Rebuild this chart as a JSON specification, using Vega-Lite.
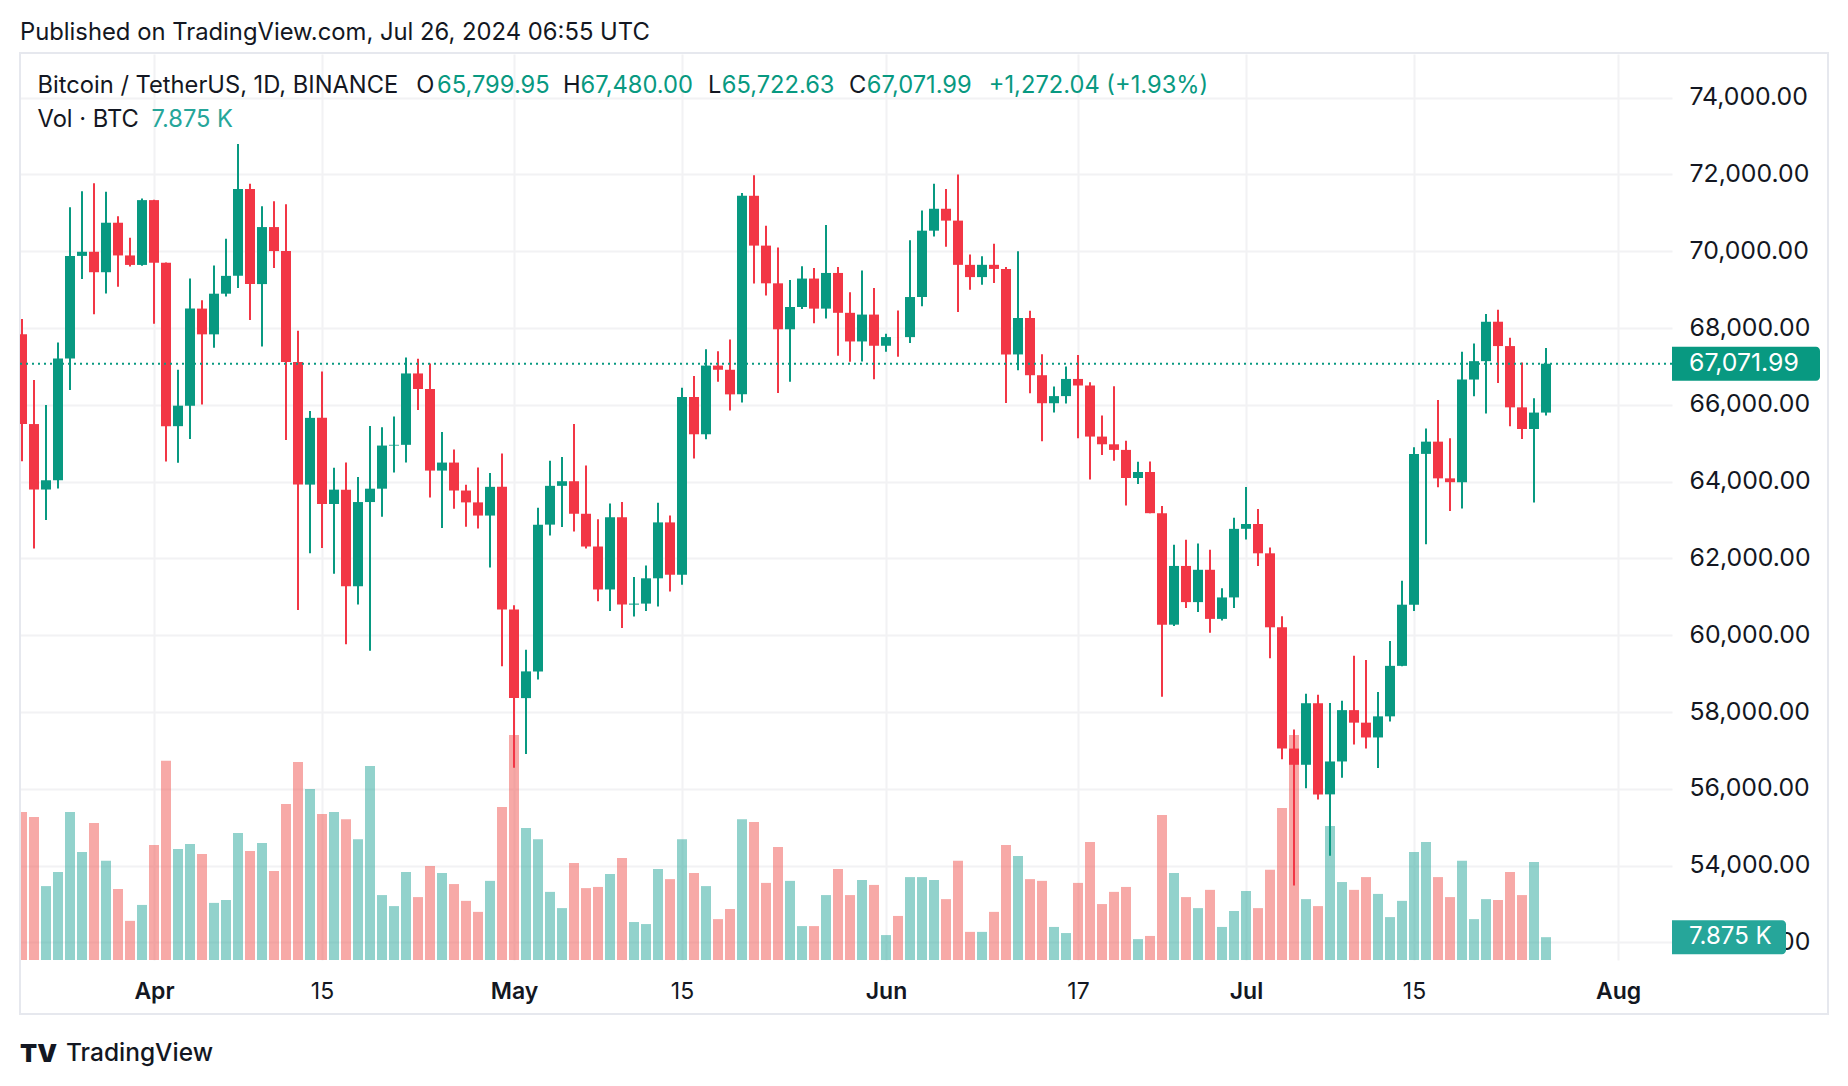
{
  "$schema": "https://vega.github.io/schema/vega-lite/v6.json",
  "width": 1652,
  "height": 906,
  "autosize": {"type": "none"},
  "padding": {"left": 20, "top": 54, "right": 176, "bottom": 126},
  "background": "white",
  "config": {"font": "Inter", "view": {"stroke": null}},
  "title": {"text": "Published on TradingView.com, Jul 26, 2024 06:55 UTC", "anchor": "start", "frame": "group", "offset": 7, "fontSize": 23.8, "fontWeight": "normal", "color": "#131722", "font": "Inter"},
  "data": {"values": [
    {"d":"2024-03-21","o":67840,"h":68240,"l":64530,"c":65501,"v":51.1},
    {"d":"2024-03-22","o":65501,"h":66650,"l":62260,"c":63796,"v":49.3},
    {"d":"2024-03-23","o":63796,"h":65999,"l":63000,"c":64037,"v":25.5},
    {"d":"2024-03-24","o":64037,"h":67622,"l":63825,"c":67211,"v":30.4},
    {"d":"2024-03-25","o":67211,"h":71150,"l":66385,"c":69880,"v":51.1},
    {"d":"2024-03-26","o":69880,"h":71561,"l":69280,"c":69988,"v":37.3},
    {"d":"2024-03-27","o":69988,"h":71769,"l":68359,"c":69455,"v":47.3},
    {"d":"2024-03-28","o":69455,"h":71552,"l":68904,"c":70744,"v":34.2},
    {"d":"2024-03-29","o":70744,"h":70914,"l":69076,"c":69892,"v":24.5},
    {"d":"2024-03-30","o":69892,"h":70355,"l":69601,"c":69645,"v":13.5},
    {"d":"2024-03-31","o":69645,"h":71377,"l":69624,"c":71333,"v":19.0},
    {"d":"2024-04-01","o":71333,"h":71342,"l":68110,"c":69702,"v":39.7},
    {"d":"2024-04-02","o":69702,"h":69708,"l":64525,"c":65446,"v":68.7},
    {"d":"2024-04-03","o":65446,"h":66914,"l":64493,"c":65980,"v":38.3},
    {"d":"2024-04-04","o":65980,"h":69291,"l":65113,"c":68508,"v":40.0},
    {"d":"2024-04-05","o":68508,"h":68725,"l":66011,"c":67837,"v":36.6},
    {"d":"2024-04-06","o":67837,"h":69630,"l":67491,"c":68896,"v":19.7},
    {"d":"2024-04-07","o":68896,"h":70326,"l":68824,"c":69360,"v":20.7},
    {"d":"2024-04-08","o":69360,"h":72797,"l":69043,"c":71620,"v":43.8},
    {"d":"2024-04-09","o":71620,"h":71758,"l":68210,"c":69146,"v":37.6},
    {"d":"2024-04-10","o":69146,"h":71172,"l":67518,"c":70631,"v":40.4},
    {"d":"2024-04-11","o":70631,"h":71305,"l":69567,"c":70006,"v":30.7},
    {"d":"2024-04-12","o":70006,"h":71227,"l":65086,"c":67117,"v":53.8},
    {"d":"2024-04-13","o":67117,"h":67931,"l":60660,"c":63924,"v":68.3},
    {"d":"2024-04-14","o":63924,"h":65840,"l":62134,"c":65662,"v":59.0},
    {"d":"2024-04-15","o":65662,"h":66867,"l":62274,"c":63419,"v":50.4},
    {"d":"2024-04-16","o":63419,"h":64365,"l":61600,"c":63793,"v":51.1},
    {"d":"2024-04-17","o":63793,"h":64499,"l":59768,"c":61277,"v":48.6},
    {"d":"2024-04-18","o":61277,"h":64125,"l":60800,"c":63470,"v":41.7},
    {"d":"2024-04-19","o":63470,"h":65450,"l":59600,"c":63818,"v":66.9},
    {"d":"2024-04-20","o":63818,"h":65419,"l":63090,"c":64941,"v":22.4},
    {"d":"2024-04-21","o":64941,"h":65695,"l":64237,"c":64960,"v":18.6},
    {"d":"2024-04-22","o":64960,"h":67233,"l":64500,"c":66819,"v":30.4},
    {"d":"2024-04-23","o":66819,"h":67199,"l":65864,"c":66414,"v":21.7},
    {"d":"2024-04-24","o":66414,"h":67075,"l":63589,"c":64289,"v":32.4},
    {"d":"2024-04-25","o":64289,"h":65297,"l":62794,"c":64498,"v":30.0},
    {"d":"2024-04-26","o":64498,"h":64837,"l":63297,"c":63770,"v":26.2},
    {"d":"2024-04-27","o":63770,"h":63923,"l":62824,"c":63461,"v":20.4},
    {"d":"2024-04-28","o":63461,"h":64370,"l":62781,"c":63118,"v":16.6},
    {"d":"2024-04-29","o":63118,"h":64228,"l":61765,"c":63866,"v":27.3},
    {"d":"2024-04-30","o":63866,"h":64734,"l":59191,"c":60672,"v":52.8},
    {"d":"2024-05-01","o":60672,"h":60780,"l":56552,"c":58364,"v":77.6},
    {"d":"2024-05-02","o":58364,"h":59625,"l":56911,"c":59060,"v":45.5},
    {"d":"2024-05-03","o":59060,"h":63320,"l":58848,"c":62882,"v":41.7},
    {"d":"2024-05-04","o":62882,"h":64544,"l":62600,"c":63892,"v":23.5},
    {"d":"2024-05-05","o":63892,"h":64646,"l":62822,"c":64012,"v":17.9},
    {"d":"2024-05-06","o":64012,"h":65500,"l":62700,"c":63165,"v":33.5},
    {"d":"2024-05-07","o":63165,"h":64422,"l":62261,"c":62312,"v":24.8},
    {"d":"2024-05-08","o":62312,"h":63021,"l":60888,"c":61193,"v":25.2},
    {"d":"2024-05-09","o":61193,"h":63429,"l":60630,"c":63074,"v":29.7},
    {"d":"2024-05-10","o":63074,"h":63469,"l":60187,"c":60799,"v":35.2},
    {"d":"2024-05-11","o":60799,"h":61515,"l":60487,"c":60825,"v":13.1},
    {"d":"2024-05-12","o":60825,"h":61818,"l":60632,"c":61484,"v":12.4},
    {"d":"2024-05-13","o":61484,"h":63450,"l":60750,"c":62940,"v":31.4},
    {"d":"2024-05-14","o":62940,"h":63118,"l":61142,"c":61577,"v":27.9},
    {"d":"2024-05-15","o":61577,"h":66444,"l":61319,"c":66206,"v":41.7},
    {"d":"2024-05-16","o":66206,"h":66752,"l":64602,"c":65235,"v":30.0},
    {"d":"2024-05-17","o":65235,"h":67451,"l":65106,"c":67024,"v":25.5},
    {"d":"2024-05-18","o":67024,"h":67400,"l":66600,"c":66915,"v":14.1},
    {"d":"2024-05-19","o":66915,"h":67700,"l":65857,"c":66274,"v":17.6},
    {"d":"2024-05-20","o":66274,"h":71515,"l":66060,"c":71446,"v":48.6},
    {"d":"2024-05-21","o":71446,"h":71979,"l":69162,"c":70148,"v":47.6},
    {"d":"2024-05-22","o":70148,"h":70666,"l":68850,"c":69166,"v":26.6},
    {"d":"2024-05-23","o":69166,"h":70096,"l":66312,"c":67969,"v":39.0},
    {"d":"2024-05-24","o":67969,"h":69250,"l":66600,"c":68549,"v":27.3},
    {"d":"2024-05-25","o":68549,"h":69610,"l":68500,"c":69290,"v":11.7},
    {"d":"2024-05-26","o":69290,"h":69562,"l":68128,"c":68507,"v":11.7},
    {"d":"2024-05-27","o":68507,"h":70687,"l":68250,"c":69436,"v":22.4},
    {"d":"2024-05-28","o":69436,"h":69591,"l":67278,"c":68398,"v":31.4},
    {"d":"2024-05-29","o":68398,"h":68935,"l":67124,"c":67652,"v":22.4},
    {"d":"2024-05-30","o":67652,"h":69500,"l":67128,"c":68352,"v":27.6},
    {"d":"2024-05-31","o":68352,"h":69044,"l":66670,"c":67540,"v":25.9},
    {"d":"2024-06-01","o":67540,"h":67856,"l":67387,"c":67766,"v":8.6},
    {"d":"2024-06-02","o":67766,"h":68460,"l":67257,"c":67765,"v":15.2},
    {"d":"2024-06-03","o":67765,"h":70288,"l":67612,"c":68809,"v":28.6},
    {"d":"2024-06-04","o":68809,"h":71063,"l":68567,"c":70537,"v":28.6},
    {"d":"2024-06-05","o":70537,"h":71758,"l":70383,"c":71108,"v":27.6},
    {"d":"2024-06-06","o":71108,"h":71625,"l":70119,"c":70799,"v":21.0},
    {"d":"2024-06-07","o":70799,"h":71997,"l":68420,"c":69647,"v":34.2},
    {"d":"2024-06-08","o":69647,"h":69914,"l":69000,"c":69328,"v":9.7},
    {"d":"2024-06-09","o":69328,"h":69868,"l":69129,"c":69648,"v":9.7},
    {"d":"2024-06-10","o":69648,"h":70195,"l":69172,"c":69541,"v":16.6},
    {"d":"2024-06-11","o":69541,"h":69590,"l":66051,"c":67314,"v":39.7},
    {"d":"2024-06-12","o":67314,"h":69999,"l":66900,"c":68263,"v":35.9},
    {"d":"2024-06-13","o":68263,"h":68450,"l":66304,"c":66773,"v":27.9},
    {"d":"2024-06-14","o":66773,"h":67316,"l":65056,"c":66043,"v":27.3},
    {"d":"2024-06-15","o":66043,"h":66478,"l":65800,"c":66229,"v":11.4},
    {"d":"2024-06-16","o":66229,"h":66998,"l":66034,"c":66676,"v":9.3},
    {"d":"2024-06-17","o":66676,"h":67299,"l":65130,"c":66505,"v":26.6},
    {"d":"2024-06-18","o":66505,"h":66588,"l":64060,"c":65175,"v":40.7},
    {"d":"2024-06-19","o":65175,"h":65727,"l":64693,"c":64974,"v":19.3},
    {"d":"2024-06-20","o":64974,"h":66483,"l":64547,"c":64828,"v":23.5},
    {"d":"2024-06-21","o":64828,"h":65066,"l":63379,"c":64096,"v":25.2},
    {"d":"2024-06-22","o":64096,"h":64520,"l":63943,"c":64252,"v":7.2},
    {"d":"2024-06-23","o":64252,"h":64527,"l":63178,"c":63180,"v":8.3},
    {"d":"2024-06-24","o":63180,"h":63370,"l":58402,"c":60277,"v":50.0},
    {"d":"2024-06-25","o":60277,"h":62359,"l":60239,"c":61806,"v":30.0},
    {"d":"2024-06-26","o":61806,"h":62488,"l":60712,"c":60864,"v":21.7},
    {"d":"2024-06-27","o":60864,"h":62389,"l":60606,"c":61706,"v":17.9},
    {"d":"2024-06-28","o":61706,"h":62225,"l":60063,"c":60427,"v":24.2},
    {"d":"2024-06-29","o":60427,"h":61224,"l":60383,"c":60986,"v":11.4},
    {"d":"2024-06-30","o":60986,"h":63058,"l":60712,"c":62772,"v":16.9},
    {"d":"2024-07-01","o":62773,"h":63861,"l":62497,"c":62899,"v":23.8},
    {"d":"2024-07-02","o":62899,"h":63288,"l":61806,"c":62135,"v":17.9},
    {"d":"2024-07-03","o":62135,"h":62285,"l":59400,"c":60208,"v":31.1},
    {"d":"2024-07-04","o":60208,"h":60498,"l":56771,"c":57050,"v":52.4},
    {"d":"2024-07-05","o":57050,"h":57546,"l":53485,"c":56628,"v":77.6},
    {"d":"2024-07-06","o":56628,"h":58475,"l":56018,"c":58231,"v":21.0},
    {"d":"2024-07-07","o":58231,"h":58449,"l":55724,"c":55857,"v":18.6},
    {"d":"2024-07-08","o":55857,"h":58236,"l":54260,"c":56714,"v":46.2},
    {"d":"2024-07-09","o":56714,"h":58296,"l":56289,"c":58051,"v":26.9},
    {"d":"2024-07-10","o":58051,"h":59470,"l":57157,"c":57725,"v":24.2},
    {"d":"2024-07-11","o":57725,"h":59359,"l":57052,"c":57339,"v":28.6},
    {"d":"2024-07-12","o":57339,"h":58526,"l":56542,"c":57889,"v":22.8},
    {"d":"2024-07-13","o":57889,"h":59850,"l":57756,"c":59204,"v":14.8},
    {"d":"2024-07-14","o":59204,"h":61420,"l":59194,"c":60797,"v":20.4},
    {"d":"2024-07-15","o":60798,"h":64900,"l":60632,"c":64724,"v":37.3},
    {"d":"2024-07-16","o":64724,"h":65388,"l":62373,"c":65043,"v":40.7},
    {"d":"2024-07-17","o":65043,"h":66128,"l":63854,"c":64087,"v":28.6},
    {"d":"2024-07-18","o":64087,"h":65133,"l":63238,"c":63987,"v":21.7},
    {"d":"2024-07-19","o":63987,"h":67386,"l":63300,"c":66660,"v":34.2},
    {"d":"2024-07-20","o":66660,"h":67598,"l":66222,"c":67139,"v":14.1},
    {"d":"2024-07-21","o":67139,"h":68366,"l":65777,"c":68165,"v":21.0},
    {"d":"2024-07-22","o":68166,"h":68480,"l":66573,"c":67532,"v":20.7},
    {"d":"2024-07-23","o":67532,"h":67750,"l":65442,"c":65936,"v":30.4},
    {"d":"2024-07-24","o":65936,"h":67102,"l":65111,"c":65372,"v":22.4},
    {"d":"2024-07-25","o":65372,"h":66175,"l":63456,"c":65799.95,"v":33.8},
    {"d":"2024-07-26","o":65799.95,"h":67480,"l":65722.63,"c":67071.99,"v":7.875}
  ]},
  "layer": [
    {
      "layer": [
        {
          "mark": {"type": "bar", "width": 10, "opacity": 0.5, "clip": true},
          "encoding": {
            "x": {"field": "d", "type": "temporal",
              "scale": {"type": "utc", "padding": 0, "domain": [{"year": 2024, "month": 3, "date": 20, "hours": 20, "utc": true}, {"year": 2024, "month": 8, "date": 5, "hours": 12, "utc": true}]},
              "axis": {
                "values": [
                  {"year": 2024, "month": 4, "date": 1, "utc": true},
                  {"year": 2024, "month": 4, "date": 15, "utc": true},
                  {"year": 2024, "month": 5, "date": 1, "utc": true},
                  {"year": 2024, "month": 5, "date": 15, "utc": true},
                  {"year": 2024, "month": 6, "date": 1, "utc": true},
                  {"year": 2024, "month": 6, "date": 17, "utc": true},
                  {"year": 2024, "month": 7, "date": 1, "utc": true},
                  {"year": 2024, "month": 7, "date": 15, "utc": true},
                  {"year": 2024, "month": 8, "date": 1, "utc": true}
                ],
                "labelExpr": "utcdate(datum.value) == 1 ? utcFormat(datum.value, '%b') : '' + utcdate(datum.value)",
                "labelFontWeight": {"condition": {"test": "utcdate(datum.value) == 1", "value": 600}, "value": 400},
                "title": null, "domain": false, "ticks": false, "tickSize": 0,
                "labelPadding": 31, "labelBaseline": "middle", "labelFontSize": 23, "labelColor": "#131722",
                "labelFont": "Inter", "labelFlush": false, "labelOverlap": false,
                "grid": true, "gridColor": "#f2f2f4", "gridWidth": 2
              }
            },
            "y": {"field": "v", "type": "quantitative", "scale": {"domain": [0, 312.57], "nice": false, "zero": true}, "axis": null},
            "color": {"condition": {"test": "datum.c >= datum.o", "value": "#26a69a"}, "value": "#ef5350"}
          }
        },
        {
          "data": {"values": [{}]},
          "mark": {"type": "rect", "fill": "#26a69a", "cornerRadiusTopRight": 4, "cornerRadiusBottomRight": 4, "clip": false},
          "encoding": {
            "x": {"datum": {"year": 2024, "month": 8, "date": 5, "hours": 12, "utc": true}, "type": "temporal"},
            "x2": {"datum": {"year": 2024, "month": 8, "date": 15, "hours": 0, "utc": true}},
            "y": {"datum": 13.74, "type": "quantitative"},
            "y2": {"datum": 2.01}
          }
        },
        {
          "data": {"values": [{}]},
          "mark": {"type": "text", "text": "7.875 K", "align": "left", "baseline": "middle", "dx": 17, "fontSize": 24, "font": "Inter", "color": "#ffffff", "clip": false},
          "encoding": {
            "x": {"datum": {"year": 2024, "month": 8, "date": 5, "hours": 12, "utc": true}, "type": "temporal"},
            "y": {"datum": 7.875, "type": "quantitative"}
          }
        }
      ]
    },
    {
      "layer": [
        {
          "data": {"values": [{}]},
          "mark": {"type": "rect", "fill": null, "stroke": "#e6e8ee", "strokeWidth": 2, "clip": false},
          "encoding": {
            "x": {"datum": {"year": 2024, "month": 3, "date": 20, "hours": 20, "utc": true}, "type": "temporal"},
            "x2": {"datum": {"year": 2024, "month": 8, "date": 18, "hours": 12, "utc": true}},
            "y": {"datum": 75164, "type": "quantitative"},
            "y2": {"datum": 50138}
          }
        },
        {
          "mark": {"type": "rule", "strokeWidth": 2, "clip": true},
          "encoding": {
            "x": {"field": "d", "type": "temporal"},
            "y": {"field": "l", "type": "quantitative",
              "scale": {"domain": [51544, 75138], "nice": false, "zero": false},
              "axis": {
                "orient": "right",
                "values": [52000, 54000, 56000, 58000, 60000, 62000, 64000, 66000, 68000, 70000, 72000, 74000],
                "format": ",.2f", "title": null, "domain": false, "ticks": false, "tickSize": 0,
                "labelPadding": 17, "labelFontSize": 24.8, "labelColor": "#131722", "labelFont": "Inter",
                "labelAlign": "left", "labelBaseline": "middle", "labelFlush": false, "labelOverlap": false,
                "grid": true, "gridColor": "#f2f2f4", "gridWidth": 2
              }
            },
            "y2": {"field": "h"},
            "color": {"condition": {"test": "datum.c >= datum.o", "value": "#089981"}, "value": "#F23645"}
          }
        },
        {
          "mark": {"type": "bar", "width": 10, "clip": true, "minBandSize": 2},
          "encoding": {
            "x": {"field": "d", "type": "temporal"},
            "y": {"field": "o", "type": "quantitative"},
            "y2": {"field": "c"},
            "color": {"condition": {"test": "datum.c >= datum.o", "value": "#089981"}, "value": "#F23645"}
          }
        },
        {
          "data": {"values": [{}]},
          "mark": {"type": "rule", "color": "#089981", "strokeWidth": 2, "strokeDash": [2, 4], "clip": true},
          "encoding": {"y": {"datum": 67071.99, "type": "quantitative"}}
        },
        {
          "data": {"values": [{}]},
          "mark": {"type": "rect", "fill": "#089981", "cornerRadiusTopRight": 4, "cornerRadiusBottomRight": 4, "clip": false},
          "encoding": {
            "x": {"datum": {"year": 2024, "month": 8, "date": 5, "hours": 12, "utc": true}, "type": "temporal"},
            "x2": {"datum": {"year": 2024, "month": 8, "date": 17, "hours": 20, "utc": true}},
            "y": {"datum": 67515, "type": "quantitative"},
            "y2": {"datum": 66629}
          }
        },
        {
          "data": {"values": [{}]},
          "mark": {"type": "text", "text": "67,071.99", "align": "left", "baseline": "middle", "dx": 17, "fontSize": 24.8, "font": "Inter", "color": "#ffffff", "clip": false},
          "encoding": {
            "x": {"datum": {"year": 2024, "month": 8, "date": 5, "hours": 12, "utc": true}, "type": "temporal"},
            "y": {"datum": 67071.99, "type": "quantitative"}
          }
        },
        {
          "data": {"values": [{}]},
          "mark": {"type": "text", "text": "Bitcoin / TetherUS, 1D, BINANCE", "align": "left", "baseline": "middle", "dx": 17.5, "dy": 32.3, "fontSize": 23.7, "font": "Inter", "color": "#131722", "clip": false},
          "encoding": {"x": {"datum": {"year": 2024, "month": 3, "date": 20, "hours": 20, "utc": true}, "type": "temporal"}, "y": {"datum": 75138, "type": "quantitative"}}
        },
        {
          "data": {"values": [{}]},
          "mark": {"type": "text", "text": "O", "align": "left", "baseline": "middle", "dx": 396.3, "dy": 32.3, "fontSize": 23.7, "font": "Inter", "color": "#131722", "clip": false},
          "encoding": {"x": {"datum": {"year": 2024, "month": 3, "date": 20, "hours": 20, "utc": true}, "type": "temporal"}, "y": {"datum": 75138, "type": "quantitative"}}
        },
        {
          "data": {"values": [{}]},
          "mark": {"type": "text", "text": "65,799.95", "align": "left", "baseline": "middle", "dx": 417, "dy": 32.3, "fontSize": 23.7, "font": "Inter", "color": "#089981", "clip": false},
          "encoding": {"x": {"datum": {"year": 2024, "month": 3, "date": 20, "hours": 20, "utc": true}, "type": "temporal"}, "y": {"datum": 75138, "type": "quantitative"}}
        },
        {
          "data": {"values": [{}]},
          "mark": {"type": "text", "text": "H", "align": "left", "baseline": "middle", "dx": 543, "dy": 32.3, "fontSize": 23.7, "font": "Inter", "color": "#131722", "clip": false},
          "encoding": {"x": {"datum": {"year": 2024, "month": 3, "date": 20, "hours": 20, "utc": true}, "type": "temporal"}, "y": {"datum": 75138, "type": "quantitative"}}
        },
        {
          "data": {"values": [{}]},
          "mark": {"type": "text", "text": "67,480.00", "align": "left", "baseline": "middle", "dx": 560.5, "dy": 32.3, "fontSize": 23.7, "font": "Inter", "color": "#089981", "clip": false},
          "encoding": {"x": {"datum": {"year": 2024, "month": 3, "date": 20, "hours": 20, "utc": true}, "type": "temporal"}, "y": {"datum": 75138, "type": "quantitative"}}
        },
        {
          "data": {"values": [{}]},
          "mark": {"type": "text", "text": "L", "align": "left", "baseline": "middle", "dx": 688, "dy": 32.3, "fontSize": 23.7, "font": "Inter", "color": "#131722", "clip": false},
          "encoding": {"x": {"datum": {"year": 2024, "month": 3, "date": 20, "hours": 20, "utc": true}, "type": "temporal"}, "y": {"datum": 75138, "type": "quantitative"}}
        },
        {
          "data": {"values": [{}]},
          "mark": {"type": "text", "text": "65,722.63", "align": "left", "baseline": "middle", "dx": 701.7, "dy": 32.3, "fontSize": 23.7, "font": "Inter", "color": "#089981", "clip": false},
          "encoding": {"x": {"datum": {"year": 2024, "month": 3, "date": 20, "hours": 20, "utc": true}, "type": "temporal"}, "y": {"datum": 75138, "type": "quantitative"}}
        },
        {
          "data": {"values": [{}]},
          "mark": {"type": "text", "text": "C", "align": "left", "baseline": "middle", "dx": 829, "dy": 32.3, "fontSize": 23.7, "font": "Inter", "color": "#131722", "clip": false},
          "encoding": {"x": {"datum": {"year": 2024, "month": 3, "date": 20, "hours": 20, "utc": true}, "type": "temporal"}, "y": {"datum": 75138, "type": "quantitative"}}
        },
        {
          "data": {"values": [{}]},
          "mark": {"type": "text", "text": "67,071.99", "align": "left", "baseline": "middle", "dx": 846.8, "dy": 32.3, "fontSize": 23.7, "font": "Inter", "color": "#089981", "clip": false},
          "encoding": {"x": {"datum": {"year": 2024, "month": 3, "date": 20, "hours": 20, "utc": true}, "type": "temporal"}, "y": {"datum": 75138, "type": "quantitative"}}
        },
        {
          "data": {"values": [{}]},
          "mark": {"type": "text", "text": "+1,272.04 (+1.93%)", "align": "left", "baseline": "middle", "dx": 968.8, "dy": 32.3, "fontSize": 23.7, "font": "Inter", "color": "#089981", "clip": false},
          "encoding": {"x": {"datum": {"year": 2024, "month": 3, "date": 20, "hours": 20, "utc": true}, "type": "temporal"}, "y": {"datum": 75138, "type": "quantitative"}}
        },
        {
          "data": {"values": [{}]},
          "mark": {"type": "text", "text": "Vol · BTC", "align": "left", "baseline": "middle", "dx": 17.5, "dy": 65.5, "fontSize": 23.7, "font": "Inter", "color": "#131722", "clip": false},
          "encoding": {"x": {"datum": {"year": 2024, "month": 3, "date": 20, "hours": 20, "utc": true}, "type": "temporal"}, "y": {"datum": 75138, "type": "quantitative"}}
        },
        {
          "data": {"values": [{}]},
          "mark": {"type": "text", "text": "7.875 K", "align": "left", "baseline": "middle", "dx": 131.5, "dy": 65.5, "fontSize": 23.7, "font": "Inter", "color": "#26a69a", "clip": false},
          "encoding": {"x": {"datum": {"year": 2024, "month": 3, "date": 20, "hours": 20, "utc": true}, "type": "temporal"}, "y": {"datum": 75138, "type": "quantitative"}}
        },
        {
          "data": {"values": [{}]},
          "mark": {"type": "text", "text": "TV", "align": "left", "baseline": "middle", "dx": 0, "dy": 1000, "fontSize": 25, "fontWeight": 900, "font": "Inter", "color": "#131722", "clip": false},
          "encoding": {"x": {"datum": {"year": 2024, "month": 3, "date": 20, "hours": 20, "utc": true}, "type": "temporal"}, "y": {"datum": 75138, "type": "quantitative"}}
        },
        {
          "data": {"values": [{}]},
          "mark": {"type": "text", "text": "TradingView", "align": "left", "baseline": "middle", "dx": 46, "dy": 1000, "fontSize": 24.5, "fontWeight": 500, "font": "Inter", "color": "#131722", "clip": false},
          "encoding": {"x": {"datum": {"year": 2024, "month": 3, "date": 20, "hours": 20, "utc": true}, "type": "temporal"}, "y": {"datum": 75138, "type": "quantitative"}}
        }
      ]
    }
  ],
  "resolve": {"scale": {"y": "independent"}, "axis": {"y": "independent"}}
}
